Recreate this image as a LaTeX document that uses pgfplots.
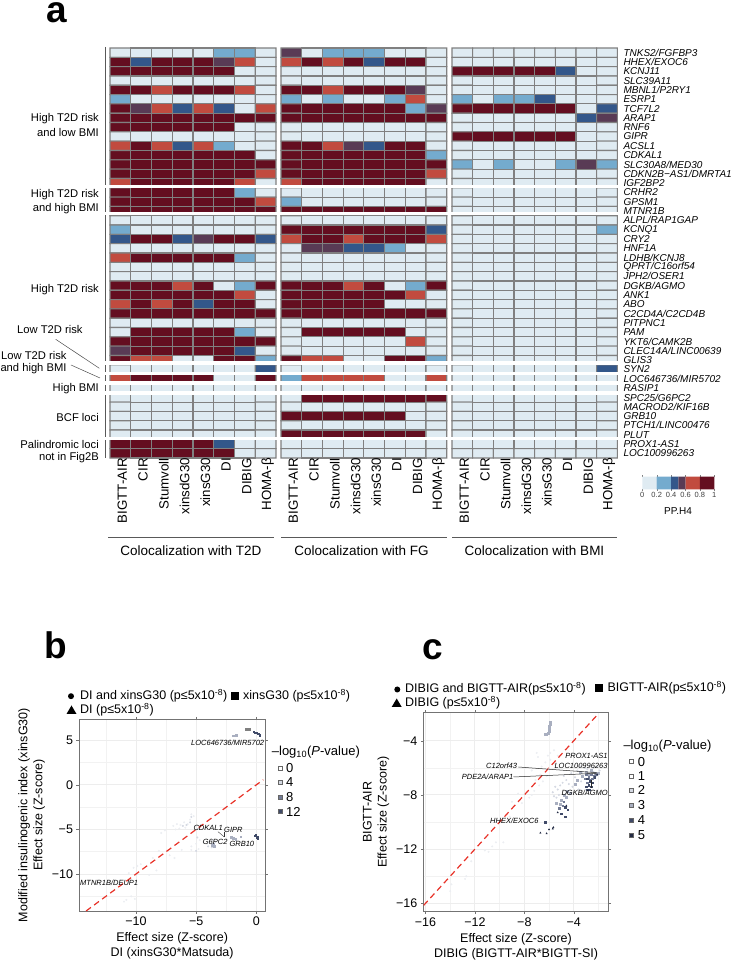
\documentclass[border=0pt]{standalone}
\usepackage{fontspec}
\setmainfont{Liberation Sans}
\usepackage{pgfplots}
\usepackage{pgfplotstable}
\pgfplotsset{compat=1.18, mesh/check=false}
\newcommand\fsz[1]{\fontsize{#1}{#1}\selectfont}
\tikzset{px/.style={x=1pt,y=-1pt,yshift=961pt}}

\definecolor{cellline}{RGB}{128,128,128}
\definecolor{diag}{RGB}{232,50,40}
\definecolor{c0}{RGB}{223,235,242}
\definecolor{c1}{RGB}{116,171,206}
\definecolor{c2}{RGB}{51,87,138}
\definecolor{c3}{RGB}{89,59,85}
\definecolor{c4}{RGB}{193,75,63}
\definecolor{c5}{RGB}{100,14,32}
\definecolor{p0}{RGB}{236,238,242}
\definecolor{p1}{RGB}{212,216,226}
\definecolor{p2}{RGB}{169,175,192}
\definecolor{p3}{RGB}{115,123,149}
\definecolor{p4}{RGB}{64,74,104}
\definecolor{p5}{RGB}{35,43,68}

% PP.H4 class of each cell, row by row: 0 <.2, 1 <.4, 2 <.5, 3 <.6, 4 <.8, 5 <=1
\pgfplotstableread[row sep=\\]{c\\%
0\\0\\0\\0\\0\\1\\1\\0\\%
5\\2\\5\\5\\5\\3\\4\\0\\%
5\\5\\5\\5\\5\\5\\0\\0\\%
0\\0\\0\\0\\0\\0\\0\\0\\%
5\\5\\4\\5\\5\\5\\4\\0\\%
1\\0\\0\\0\\0\\0\\0\\0\\%
5\\3\\4\\2\\4\\2\\0\\4\\%
5\\5\\5\\5\\5\\5\\5\\5\\%
5\\5\\5\\5\\5\\5\\0\\0\\%
0\\0\\0\\0\\0\\0\\0\\0\\%
4\\5\\4\\2\\4\\1\\0\\0\\%
5\\5\\5\\5\\5\\5\\5\\0\\%
5\\5\\5\\5\\5\\5\\5\\5\\%
5\\5\\5\\5\\5\\5\\5\\4\\%
4\\5\\5\\5\\5\\5\\4\\0\\%
5\\5\\5\\5\\5\\5\\1\\0\\%
5\\5\\5\\5\\5\\5\\5\\4\\%
5\\5\\5\\5\\5\\5\\5\\5\\%
0\\0\\0\\0\\0\\0\\0\\0\\%
1\\0\\0\\0\\0\\0\\0\\0\\%
2\\5\\5\\2\\3\\5\\5\\2\\%
0\\0\\0\\0\\0\\0\\0\\0\\%
4\\5\\5\\5\\5\\5\\1\\0\\%
0\\0\\0\\0\\0\\0\\0\\0\\%
0\\0\\0\\0\\0\\0\\0\\0\\%
5\\5\\5\\4\\5\\0\\1\\5\\%
5\\5\\5\\5\\5\\5\\4\\0\\%
4\\5\\4\\5\\2\\5\\5\\0\\%
5\\5\\5\\5\\5\\5\\5\\5\\%
0\\0\\0\\0\\0\\0\\0\\0\\%
0\\5\\5\\5\\5\\5\\1\\0\\%
5\\5\\5\\5\\5\\5\\5\\5\\%
3\\5\\5\\5\\5\\5\\2\\0\\%
5\\4\\4\\0\\0\\5\\5\\1\\%
0\\0\\0\\0\\0\\0\\0\\2\\%
4\\5\\5\\5\\5\\0\\0\\5\\%
0\\0\\0\\0\\0\\0\\0\\0\\%
0\\0\\0\\0\\0\\0\\0\\0\\%
0\\0\\0\\0\\0\\0\\0\\0\\%
0\\0\\0\\0\\0\\0\\0\\0\\%
0\\0\\0\\0\\0\\0\\0\\0\\%
0\\0\\0\\0\\0\\0\\0\\0\\%
5\\5\\5\\5\\5\\2\\0\\0\\%
5\\5\\5\\5\\5\\5\\0\\0\\%
}\tabTD

\pgfplotstableread[row sep=\\]{c\\%
3\\0\\1\\1\\1\\0\\0\\0\\%
4\\5\\4\\5\\2\\5\\5\\0\\%
0\\0\\0\\0\\0\\0\\0\\0\\%
0\\0\\0\\0\\0\\0\\0\\0\\%
5\\5\\4\\5\\5\\5\\3\\0\\%
1\\0\\1\\0\\0\\1\\4\\0\\%
5\\5\\5\\5\\5\\5\\1\\3\\%
5\\5\\5\\5\\5\\5\\5\\5\\%
0\\0\\0\\0\\0\\0\\0\\0\\%
0\\0\\0\\0\\0\\0\\0\\0\\%
5\\5\\4\\3\\2\\5\\5\\0\\%
5\\5\\5\\5\\5\\5\\5\\1\\%
5\\5\\5\\5\\5\\5\\5\\5\\%
5\\5\\5\\5\\5\\5\\5\\4\\%
4\\5\\5\\5\\5\\5\\5\\0\\%
0\\0\\0\\0\\0\\0\\0\\0\\%
1\\0\\0\\0\\0\\0\\0\\0\\%
5\\5\\5\\5\\5\\5\\5\\5\\%
0\\0\\0\\0\\0\\0\\0\\0\\%
5\\5\\5\\5\\5\\5\\5\\2\\%
4\\5\\5\\4\\5\\5\\5\\4\\%
0\\3\\3\\2\\2\\1\\0\\0\\%
0\\0\\0\\0\\0\\0\\0\\0\\%
0\\0\\0\\0\\0\\0\\0\\0\\%
0\\0\\0\\0\\0\\0\\0\\0\\%
5\\5\\5\\4\\5\\0\\1\\5\\%
5\\5\\5\\5\\5\\5\\4\\0\\%
5\\5\\5\\5\\5\\0\\0\\0\\%
5\\5\\5\\5\\5\\5\\5\\5\\%
0\\0\\0\\0\\0\\0\\0\\0\\%
0\\5\\5\\5\\5\\5\\0\\0\\%
0\\0\\0\\0\\0\\0\\4\\0\\%
0\\0\\0\\0\\0\\0\\0\\0\\%
5\\4\\4\\0\\0\\5\\5\\1\\%
0\\0\\0\\0\\0\\0\\0\\0\\%
1\\4\\4\\4\\4\\0\\0\\4\\%
0\\0\\0\\0\\0\\0\\0\\0\\%
0\\5\\5\\5\\5\\5\\5\\5\\%
0\\0\\0\\0\\0\\0\\0\\0\\%
5\\5\\5\\5\\5\\5\\0\\0\\%
0\\0\\0\\0\\0\\0\\0\\0\\%
5\\5\\5\\5\\5\\5\\5\\0\\%
0\\0\\0\\0\\0\\0\\0\\0\\%
0\\0\\0\\0\\0\\0\\0\\0\\%
}\tabFG

\pgfplotstableread[row sep=\\]{c\\%
0\\0\\0\\0\\0\\0\\0\\0\\%
0\\0\\0\\0\\0\\0\\0\\0\\%
5\\5\\5\\5\\5\\2\\0\\0\\%
0\\0\\0\\0\\0\\0\\0\\0\\%
0\\0\\0\\0\\0\\0\\0\\0\\%
1\\0\\1\\1\\2\\0\\0\\0\\%
5\\5\\5\\5\\5\\5\\0\\2\\%
0\\0\\0\\0\\0\\0\\2\\3\\%
0\\0\\0\\0\\0\\0\\0\\0\\%
5\\5\\5\\5\\5\\5\\0\\0\\%
0\\0\\0\\0\\0\\0\\0\\0\\%
0\\0\\0\\0\\0\\0\\0\\0\\%
1\\0\\1\\0\\0\\1\\3\\1\\%
0\\0\\0\\0\\0\\0\\0\\0\\%
0\\0\\0\\0\\0\\0\\0\\0\\%
0\\0\\0\\0\\0\\0\\0\\0\\%
0\\0\\0\\0\\0\\0\\0\\0\\%
0\\0\\0\\0\\0\\0\\0\\0\\%
0\\0\\0\\0\\0\\0\\0\\0\\%
0\\0\\0\\0\\0\\0\\0\\1\\%
0\\0\\0\\0\\0\\0\\0\\0\\%
0\\0\\0\\0\\0\\0\\0\\0\\%
0\\0\\0\\0\\0\\0\\0\\0\\%
0\\0\\0\\0\\0\\0\\0\\0\\%
0\\0\\0\\0\\0\\0\\0\\0\\%
0\\0\\0\\0\\0\\0\\0\\0\\%
0\\0\\0\\0\\0\\0\\0\\0\\%
0\\0\\0\\0\\0\\0\\0\\0\\%
0\\0\\0\\0\\0\\0\\0\\0\\%
0\\0\\0\\0\\0\\0\\0\\0\\%
0\\0\\0\\0\\0\\0\\0\\0\\%
0\\0\\0\\0\\0\\0\\0\\0\\%
0\\0\\0\\0\\0\\0\\0\\0\\%
0\\0\\0\\0\\0\\0\\0\\0\\%
0\\0\\0\\0\\0\\0\\0\\2\\%
0\\0\\0\\0\\0\\0\\0\\0\\%
0\\0\\0\\0\\0\\0\\0\\0\\%
0\\0\\0\\0\\0\\0\\0\\0\\%
0\\0\\0\\0\\0\\0\\0\\0\\%
0\\0\\0\\0\\0\\0\\0\\0\\%
0\\0\\0\\0\\0\\0\\0\\0\\%
0\\0\\0\\0\\0\\0\\0\\0\\%
0\\0\\0\\0\\0\\0\\0\\0\\%
0\\0\\0\\0\\0\\0\\0\\0\\%
}\tabBMI

\pgfplotsset{
  colormap={pph}{rgb255=(223,235,242) rgb255=(116,171,206) rgb255=(51,87,138)
    rgb255=(89,59,85) rgb255=(193,75,63) rgb255=(100,14,32)},
  heatax/.style={
    anchor=south west, scale only axis, clip=false,
    width=166pt, height=410pt,
    xmin=-0.5, xmax=7.5, ymin=0.5, ymax=44.5, y dir=reverse,
    axis line style={draw=none}, tick style={draw=none},
    xtick={0,...,7},
    xticklabels={BIGTT-AIR,CIR,Stumvoll,xinsdG30,xinsG30,DI,DIBIG,HOMA-β},
    xticklabel style={rotate=90, anchor=east, inner sep=0pt, yshift=-2pt,
      font=\fsz{13.3}},
    ytick=\empty,
  },
  heatcells/.style={
    matrix plot, mesh/cols=8, mesh/rows=44, point meta=explicit,
    colormap access=direct, draw=cellline, line width=1.1pt,
  },
  scatax/.style={
    anchor=south west, scale only axis,
    axis line style={draw=black!55, line width=1pt},
    tick style={draw=black!55}, tick align=outside,
    major tick length=2.5pt, minor tick length=0pt,
    grid=both,
    major grid style={draw=black!7, line width=0.9pt},
    minor grid style={draw=black!5, line width=0.5pt},
    tick label style={font=\fsz{12.5}},
    label style={font=\fontsize{12.5}{15}\selectfont, align=center},
  },
  smalldots/.style={only marks, mark size=#1, mark options={draw=none}},
  smalldots/.default=0.8pt,
}

\begin{document}
\begin{tikzpicture}
\path[use as bounding box] (0pt,0pt) rectangle (732pt,961pt);

% colour key
\begin{axis}[anchor=south west, scale only axis, at={(642.3pt,471.7pt)},
  width=72pt, height=12.6pt, xmin=0, xmax=1, ymin=0, ymax=1,
  axis line style={draw=none}, ytick=\empty,
  xtick={0,0.2,0.4,0.6,0.8,1}, xticklabels={0,0.2,0.4,0.6,0.8,1},
  tick style={draw=black!50}, major tick length=1.5pt, tick align=outside,
  xticklabel style={font=\fsz{7.5}, text=black!75, inner sep=1pt}]
\addplot[fill=c0, draw=none] coordinates {(0,0)(0,1)(0.2,1)(0.2,0)} \closedcycle;
\addplot[fill=c1, draw=none] coordinates {(0.2,0)(0.2,1)(0.4,1)(0.4,0)} \closedcycle;
\addplot[fill=c2, draw=none] coordinates {(0.4,0)(0.4,1)(0.5,1)(0.5,0)} \closedcycle;
\addplot[fill=c3, draw=none] coordinates {(0.5,0)(0.5,1)(0.6,1)(0.6,0)} \closedcycle;
\addplot[fill=c4, draw=none] coordinates {(0.6,0)(0.6,1)(0.8,1)(0.8,0)} \closedcycle;
\addplot[fill=c5, draw=none] coordinates {(0.8,0)(0.8,1)(1,1)(1,0)} \closedcycle;
\end{axis}

% ---- panel b
\begin{axis}[scatax, at={(79pt,50pt)}, width=186.3pt, height=191.7pt,
  xmin=-14.74, xmax=0.75, ymin=-14.15, ymax=7.36,
  xtick={-10,-5,0}, xticklabels={−10,−5,0}, minor xtick={-12.5,-7.5,-2.5},
  ytick={-10,-5,0,5}, yticklabels={−10,−5,0,5}, minor ytick={-12.5,-7.5,-2.5,2.5},
  xlabel={Effect size (Z-score)\\DI (xinsG30*Matsuda)},
  ylabel={Modified insulinogenic index (xinsG30)\\Effect size (Z-score)}]
\addplot[smalldots, p0, mark=*] coordinates {(-6.9,-4.6)(-6.6,-4.4)(-6.3,-4.5)(-6,-4.2)(-5.7,-4.4)(-5.5,-3.9)(-5.4,-3.3)(-5.2,-3.5)(-5.9,-4.8)(-6.4,-4.9)(-6.7,-5.0)(-5.1,-4.6)(-4.8,-4.9)(-4.7,-6.2)(-4.4,-6.4)(-4.1,-6.6)(-5.0,-6.6)(-5.4,-6.9)(-4.8,-7.2)(-6.2,-7.3)(-7.6,-5.1)(-7.9,-5.4)(-8.1,-7.4)(-8.6,-8.2)(-9.6,-8.9)(-10.2,-9.3)(-10.6,-9.9)(-9.9,-9.1)(-8.9,-10.1)(-8.3,-9.6)(-10.8,-12.9)(-11,-13.1)(-10.4,-12.5)(-10.1,-12.8)(-11.3,-10.7)(-12.2,-11.0)(-13,-11.2)(-7.2,-7.9)(-6.8,-8.2)(-5.4,-7.3)};
\addplot[smalldots, p1, mark=*] coordinates {(-3.6,-6.2)(-3.9,-6.5)(-3.4,-6.4)(-4.0,-6.9)(-3.7,-7)(-5.0,-7.4)(-4.9,-5.9)(-6.1,-4.6)(-5.8,-4.5)(-5.5,-4.2)(-5.4,-3.6)};
\addplot[smalldots, p2, mark=square*] coordinates {(-3.6,-6.6)(-3.5,-6.9)(-3.7,-6.8)(-2.1,-5.9)(-1.9,-6.0)(-1.7,-6.1)(-1.3,-5.8)(-1.94,5.5)(-1.66,5.58)(-1.8,5.52)};
\addplot[smalldots, black!50, mark=square*] coordinates {(-0.83,6.25)(-0.69,6.28)(-0.55,6.22)(-0.75,6.18)};
\addplot[smalldots, p4, mark=square*] coordinates {(-0.22,5.95)(-0.1,5.85)(0,5.85)(0.15,5.75)(0.28,5.55)(-0.1,-5.7)(-0.05,-5.6)(0.05,-5.85)(0.12,-6.0)(0.08,-5.9)};
\addplot[diag, line width=1.2pt, dash pattern=on 6pt off 4pt] coordinates {(-14.15,-14.15)(0.58,0.58)};
\end{axis}

% ---- panel c
\begin{axis}[scatax, at={(423.3pt,49.3pt)}, width=185.4pt, height=199pt,
  xmin=-16.18, xmax=-1.17, ymin=-16.62, ymax=-1.93,
  xtick={-16,-12,-8,-4}, xticklabels={−16,−12,−8,−4}, minor xtick={-14,-10,-6,-2},
  ytick={-16,-12,-8,-4}, yticklabels={−16,−12,−8,−4}, minor ytick={-14,-10,-6},
  xlabel={Effect size (Z-score)\\DIBIG (BIGTT-AIR*BIGTT-SI)},
  ylabel={BIGTT-AIR\\Effect size (Z-score)}]
\addplot[smalldots, p0, mark=*] coordinates {(-14,-15.1)(-13.9,-14.6)(-12.8,-14.2)(-12.7,-14.0)(-12.3,-12.9)(-11.2,-12.1)(-10.9,-12.2)(-10.6,-11.8)(-10.3,-11.5)(-9.7,-11.5)(-9.2,-9.6)(-9.0,-8.5)(-8.5,-7.9)(-8.2,-8.6)(-7.6,-8.2)(-7.4,-8.0)(-7.2,-7.7)(-6.8,-7.3)(-6.5,-7.0)(-6.2,-6.6)(-6.0,-6.1)(-6.7,-6.5)(-6.6,-5.9)(-6.3,-5.6)(-6.1,-5.1)(-5.9,-4.9)(-5.6,-4.7)(-5.3,-5.1)(-5.9,-5.4)(-5.5,-5.7)(-5.2,-6.1)(-7.1,-6.9)(-7.4,-6.2)(-6.9,-5.2)(-7.0,-4.9)};
\addplot[smalldots, p1, mark=*] coordinates {(-5.7,-7.8)(-5.5,-7.4)(-5.3,-7.6)(-5.1,-7.3)(-4.9,-7.1)(-5.6,-8.1)(-5.4,-8.2)(-5.2,-8.0)(-4.8,-6.6)(-4.6,-6.9)(-4.4,-7.2)(-4.2,-6.4)(-3.9,-6.7)(-3.7,-6.2)(-3.5,-5.9)(-3.3,-6.4)(-3.1,-6.0)(-2.9,-6.1)(-2.7,-5.9)(-2.4,-6.0)(-2.1,-5.9)(-2.4,-6.3)(-1.9,-6.2)(-2.2,-6.6)(-3.4,-7.0)(-4.1,-7.4)(-3.6,-7.6)};
\addplot[smalldots=1pt, p2, mark=square*] coordinates {(-5.92,-2.6)(-5.92,-2.75)(-5.95,-2.9)(-5.97,-3.0)(-6.0,-3.15)(-6.02,-3.3)(-6.05,-3.45)(-6.2,-3.5)(-6.3,-3.5)(-4.5,-7.7)(-4.8,-8.0)(-5,-8.4)(-5.4,-8.6)(-5.1,-8.7)(-4.3,-7.9)(-3.9,-7.2)(-3.7,-6.9)(-3.3,-6.6)(-3,-6.3)(-2.8,-6.5)(-2.6,-6.2)(-2.3,-6.4)(-2.0,-6.4)(-3.5,-6.3)(-4.6,-8.2)};
\addplot[smalldots, p3, mark=square*] coordinates {(-3.0,-6.5)(-2.8,-6.7)(-2.6,-6.5)(-2.4,-6.6)(-2.7,-6.9)(-2.5,-6.8)(-3.1,-6.8)(-2.2,-6.5)(-2.9,-7.1)(-5.2,-9.0)(-4.8,-8.5)(-4.9,-8.8)};
\addplot[smalldots, p4, mark=square*] coordinates {(-2.9,-6.8)(-2.7,-7.0)(-2.5,-7.1)(-2.8,-7.3)(-2.6,-7.4)(-3.0,-7.4)(-2.9,-7.6)(-2.7,-7.6)(-2.3,-6.7)(-4.7,-8.9)(-4.5,-9.1)(-5.0,-9.4)(-4.7,-9.6)(-6.3,-10.0)};
\addplot[smalldots, p5, mark=triangle*] coordinates {(-2.1,-6.5)(-5.3,-9.3)(-4.6,-8.8)(-6.7,-10.8)(-6.2,-10.85)(-6.0,-10.55)(-5.7,-10.5)(-5.65,-10.4)};
\addplot[diag, line width=1.2pt, dash pattern=on 6pt off 4pt] coordinates {(-16.15,-16.15)(-2,-2)};
\end{axis}

% ---- panel a
\begin{axis}[heatax, at={(110pt,503pt)}]
\addplot[heatcells] table[x index=0, y index=0, x expr={mod(\coordindex,8)}, y expr={floor((\coordindex+0.5)/8)+1}, meta=c] {\tabTD};
\end{axis}
\begin{axis}[heatax, at={(281pt,503pt)}, width=165.7pt]
\addplot[heatcells] table[x index=0, y index=0, x expr={mod(\coordindex,8)}, y expr={floor((\coordindex+0.5)/8)+1}, meta=c] {\tabFG};
\end{axis}
\begin{axis}[heatax, at={(452pt,503pt)}, width=165.3pt,
  ytick={1,...,44},
  yticklabel pos=right,
  yticklabel style={anchor=west, inner sep=0pt, xshift=6pt, font=\fsz{10}\itshape},
  yticklabels={TNKS2/FGFBP3,HHEX/EXOC6,KCNJ11,SLC39A11,MBNL1/P2RY1,ESRP1,TCF7L2,ARAP1,RNF6,GIPR,ACSL1,CDKAL1,SLC30A8/MED30,CDKN2B−AS1/DMRTA1,IGF2BP2,CRHR2,GPSM1,MTNR1B,ALPL/RAP1GAP,KCNQ1,CRY2,HNF1A,LDHB/KCNJ8,QPRT/C16orf54,JPH2/OSER1,DGKB/AGMO,ANK1,ABO,C2CD4A/C2CD4B,PITPNC1,PAM,YKT6/CAMK2B,CLEC14A/LINC00639,GLIS3,SYN2,LOC646736/MIR5702,RASIP1,SPC25/G6PC2,MACROD2/KIF16B,GRB10,PTCH1/LINC00476,PLUT,PROX1-AS1,LOC100996263}]
\addplot[heatcells] table[x index=0, y index=0, x expr={mod(\coordindex,8)}, y expr={floor((\coordindex+0.5)/8)+1}, meta=c] {\tabBMI};
\end{axis}

% ---- everything below is placed in page pixels, y downwards
\begin{scope}[px]
\node[inner sep=0pt, font=\fsz{10}] at (678,510.7) {PP.H4};
\node[inner sep=0pt, anchor=base west, font=\fsz{37}\bfseries] at (46,22.7) {a};
\node[inner sep=0pt, anchor=base west, font=\fsz{37}\bfseries] at (44,659) {b};
\node[inner sep=0pt, anchor=base west, font=\fsz{37}\bfseries] at (422,660) {c};

\begin{scope}[every node/.style={inner sep=0pt, font=\fsz{7.5}\itshape}]
\node[anchor=west] at (191,743.3) {LOC646736/MIR5702};
\node[anchor=west] at (193.3,828.3) {CDKAL1};
\node[anchor=west] at (224,830) {GIPR};
\node[anchor=west] at (202.7,842.3) {G6PC2};
\node[anchor=west] at (229.3,844.3) {GRB10};
\node[anchor=west] at (80,882.7) {MTNR1B/DEUP1};
\node[anchor=east] at (607.7,756) {PROX1-AS1};
\node[anchor=east] at (607.7,765.7) {LOC100996263};
\node[anchor=west] at (486,765.7) {C12orf43};
\node[anchor=west] at (461.7,777) {PDE2A/ARAP1};
\node[anchor=east] at (608,793.3) {DGKB/AGMO};
\node[anchor=west] at (490,820.7) {HHEX/EXOC6};
\end{scope}
\draw[black!80, line width=0.4pt] (218,831.7) -- (224,836.7);
\draw[black!80, line width=0.4pt] (224.5,832) -- (224.5,837);
\draw[black!85, line width=0.5pt] (518.3,767) -- (596.7,772.7);
\draw[black!85, line width=0.5pt] (513.5,777) -- (596.7,773.3);
\draw[black!85, line width=0.4pt] (591,780) -- (591,788.3);

\begin{scope}[every node/.style={inner sep=0pt, font=\fsz{12.5}, anchor=west}]
\node at (80,695.7) {DI and xinsG30 (p≤5x10\textsuperscript{-8})};
\node at (243,695.7) {xinsG30 (p≤5x10\textsuperscript{-8})};
\node at (80,710) {DI (p≤5x10\textsuperscript{-8})};
\node[font=\fsz{13}] at (271.7,752) {–log\textsubscript{10}(\textit{P}-value)};
\node[font=\fsz{13}] at (286,768) {0};
\node[font=\fsz{13}] at (286,782.3) {4};
\node[font=\fsz{13}] at (286,797) {8};
\node[font=\fsz{13}] at (286,811.7) {12};
\node at (405,689) {DIBIG and BIGTT-AIR(p≤5x10\textsuperscript{-8})};
\node at (607.3,688) {BIGTT-AIR(p≤5x10\textsuperscript{-8})};
\node at (405,702.7) {DIBIG (p≤5x10\textsuperscript{-8})};
\node[font=\fsz{13}] at (623.3,745.7) {–log\textsubscript{10}(\textit{P}-value)};
\node[font=\fsz{13}] at (637.7,761.7) {0};
\node[font=\fsz{13}] at (637.7,776) {1};
\node[font=\fsz{13}] at (637.7,790) {2};
\node[font=\fsz{13}] at (637.7,805) {3};
\node[font=\fsz{13}] at (637.7,820) {4};
\node[font=\fsz{13}] at (637.7,835) {5};
\end{scope}
\fill (71,696.2) circle (3pt);
\fill (231,691.7) rectangle +(8,8);
\fill (66.5,714) -- (76.5,714) -- (71.5,705.5) -- cycle;
\filldraw[draw=black!60, fill=white, line width=0.5pt] (278,766) rectangle +(3.8,3.8);
\filldraw[draw=black!60, fill=p1, line width=0.5pt] (278,780.3) rectangle +(3.8,3.8);
\filldraw[draw=black!60, fill=p3, line width=0.5pt] (278,795) rectangle +(3.8,3.8);
\filldraw[draw=black!60, fill=p4, line width=0.5pt] (278,809.7) rectangle +(3.8,3.8);
\fill (397.3,689.5) circle (3pt);
\fill (595,684) rectangle +(8,8);
\fill (391.7,707) -- (401.7,707) -- (396.7,698.5) -- cycle;
\filldraw[draw=black!60, fill=white, line width=0.5pt] (629.7,759.7) rectangle +(3.8,3.8);
\filldraw[draw=black!60, fill=white, line width=0.5pt] (629.7,774) rectangle +(3.8,3.8);
\filldraw[draw=black!60, fill=p1, line width=0.5pt] (629.7,788) rectangle +(3.8,3.8);
\filldraw[draw=black!60, fill=p2, line width=0.5pt] (629.7,803) rectangle +(3.8,3.8);
\filldraw[draw=black!60, fill=p4, line width=0.5pt] (629.7,818) rectangle +(3.8,3.8);
\filldraw[draw=black!60, fill=p5, line width=0.5pt] (629.7,833) rectangle +(3.8,3.8);

\draw[black!65, line width=1pt] (105.7,47) -- (105.7,458);
\foreach \a/\b in {185/188.3, 212/215.3, 361.5/364.6, 371.7/374.8, 381.4/384.6, 391.4/394.6, 436.7/440}
  \fill[white] (103,\a) rectangle (620,\b);

\begin{scope}[every node/.style={inner sep=0pt, font=\fsz{11.2}, anchor=east}]
\node at (99,118.3) {High T2D risk};
\node at (99,132.3) {and low BMI};
\node at (99,195) {High T2D risk};
\node at (99,208.7) {and high BMI};
\node at (99,289.7) {High T2D risk};
\node at (82.7,329.7) {Low T2D risk};
\node at (66.7,355.7) {Low T2D risk};
\node at (66.7,369) {and high BMI};
\node at (99,388.7) {High BMI};
\node at (99,418) {BCF loci};
\node at (99,444.3) {Palindromic loci};
\node at (99,458) {not in Fig2B};
\end{scope}
\draw[black!70, line width=0.5pt] (55.7,339.3) -- (99.3,368.3);
\draw[black!70, line width=0.5pt] (71,365) -- (100,378);

\draw[black!65, line width=1pt] (108.3,537.7) -- (274,537.7);
\draw[black!65, line width=1pt] (281,537.7) -- (446.7,537.7);
\draw[black!65, line width=1pt] (452,537.7) -- (617.3,537.7);
\begin{scope}[every node/.style={inner sep=0pt, font=\fsz{13.5}}]
\node at (191,550.7) {Colocalization with T2D};
\node at (361.5,550.7) {Colocalization with FG};
\node at (534.5,550.7) {Colocalization with BMI};
\end{scope}
\end{scope}
\end{tikzpicture}
\end{document}
